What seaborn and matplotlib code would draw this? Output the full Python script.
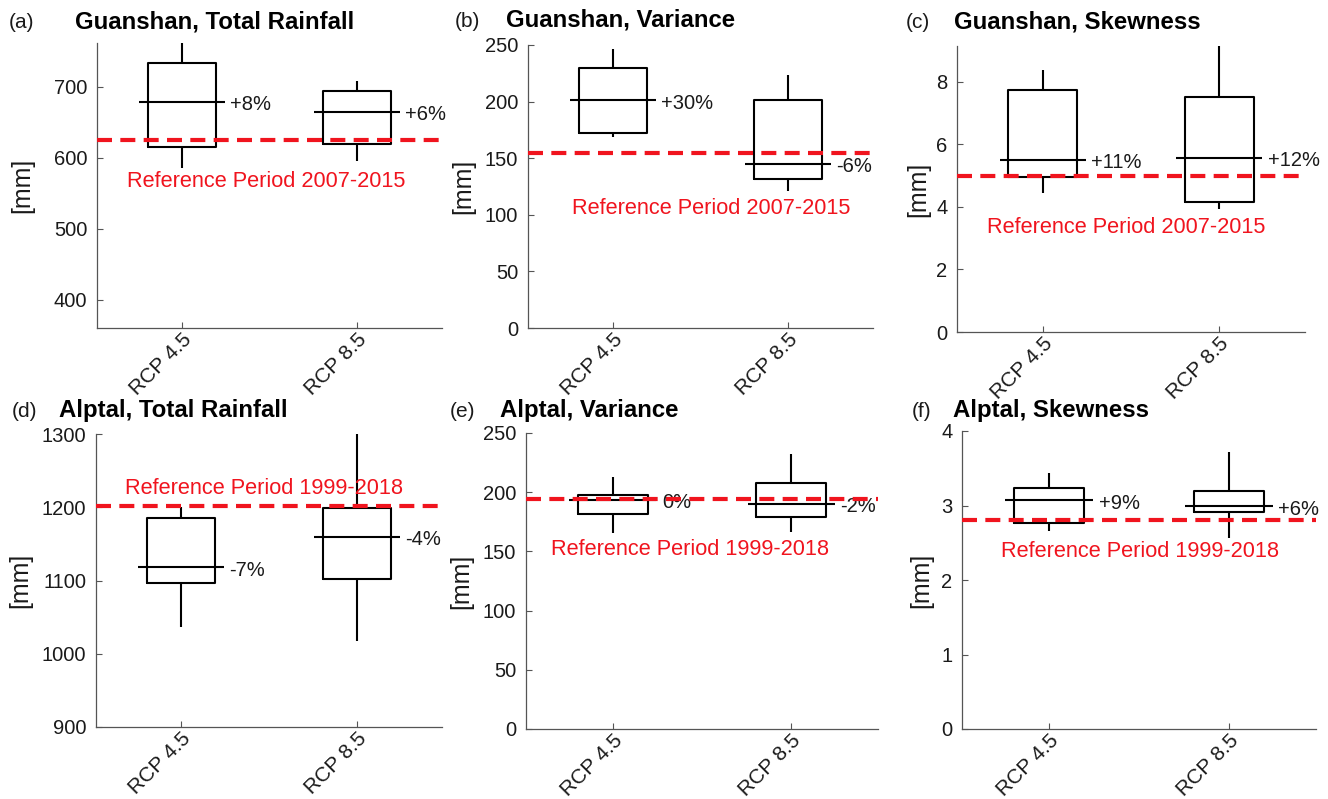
import numpy as np
import pandas as pd
import matplotlib
matplotlib.use('Agg')
import matplotlib.pyplot as plt
import seaborn as sns

W, H = 1328, 799

SCENARIOS = ['RCP 4.5', 'RCP 8.5']

# five-number summaries:
# lower whisker, lower quartile, median, upper quartile, upper whisker
guanshan_total = [[586, 615, 679, 734, 770], [596, 620, 665, 695, 709]]
guanshan_variance = [[168.6, 172.6, 201, 230, 246.5], [120.6, 131.8, 145, 201, 223.6]]
guanshan_skewness = [[4.44, 4.97, 5.50, 7.73, 8.37], [3.93, 4.15, 5.56, 7.52, 9.3]]
alptal_total = [[1037, 1097, 1118, 1185, 1201], [1017, 1102.5, 1160, 1199, 1300]]
alptal_variance = [[165.4, 181.8, 193.6, 197.9, 212.5], [166.3, 179, 190, 208, 232.5]]
alptal_skewness = [[2.66, 2.76, 3.07, 3.24, 3.43], [2.56, 2.91, 2.99, 3.19, 3.72]]

panel_data = [guanshan_total, guanshan_variance, guanshan_skewness,
              alptal_total, alptal_variance, alptal_skewness]

change_labels = [['+8%', '+6%'], ['+30%', '-6%'], ['+11%', '+12%'],
                 ['-7%', '-4%'], ['0%', '-2%'], ['+9%', '+6%']]

reference_values = [625, 155, 5.0, 1202, 194, 2.81]
reference_labels = ['Reference Period 2007-2015'] * 3 + ['Reference Period 1999-2018'] * 3
reference_label_y = [567, 106, 3.33, 1226, 152, 2.38]

panel_letters = ['(a)', '(b)', '(c)', '(d)', '(e)', '(f)']
panel_titles = ['Guanshan, Total Rainfall', 'Guanshan, Variance', 'Guanshan, Skewness',
                'Alptal, Total Rainfall', 'Alptal, Variance', 'Alptal, Skewness']

y_limits = [(360, 762), (0, 250), (0, 9.15), (900, 1300), (0, 250), (0, 4)]
y_ticks = [[400, 500, 600, 700], [0, 50, 100, 150, 200, 250], [0, 2, 4, 6, 8],
           [900, 1000, 1100, 1200, 1300], [0, 50, 100, 150, 200, 250], [0, 1, 2, 3, 4]]

# layout in pixels: axes (left, top, right, bottom), letter x, title x, title baseline
axes_px = [(97, 43, 442, 328), (528, 45, 873, 328), (957, 46, 1305, 332),
           (96, 434, 442, 727), (526, 433, 878, 729), (962, 431, 1316, 729)]
label_px = [(9, 75, 28), (455, 506, 27), (906, 954, 28),
            (12, 59, 417), (450, 500, 417), (912, 953, 417)]
ylabel_gap_px = [74, 64, 38, 75, 64, 40]
ref_label_x = [0.49, 0.53, 0.486, 0.486, 0.467, 0.504]

RED = '#f0141e'
INK = '#1a1a1a'
AXC = '#555555'

sns.set_theme(style='ticks', rc={
    'xtick.direction': 'in', 'ytick.direction': 'in',
    'axes.edgecolor': AXC, 'axes.linewidth': 0.9,
    'xtick.color': AXC, 'ytick.color': AXC,
    'xtick.labelcolor': INK, 'ytick.labelcolor': INK,
})
plt.rcParams['font.family'] = ['Liberation Sans', 'DejaVu Sans']

fig = plt.figure(figsize=(W / 100, H / 100), dpi=100)
fig.patch.set_facecolor('white')

for k, vals in enumerate(panel_data):
    l, t, r, b = axes_px[k]
    ax = fig.add_axes([l / W, 1 - b / H, (r - l) / W, (b - t) / H])

    df = pd.DataFrame({'scenario': np.repeat(SCENARIOS, [len(v) for v in vals]),
                       'value': np.concatenate(vals)})
    sns.boxplot(data=df, x='scenario', y='value', ax=ax, whis=(0, 100), width=0.39,
                fill=False, color='black', linewidth=1.5, showcaps=False,
                showfliers=False, medianprops={'visible': False})

    medians = df.groupby('scenario', sort=False)['value'].median().values
    xs = np.arange(len(SCENARIOS))
    ax.hlines(medians, xs - 0.245, xs + 0.245, color='black', linewidth=1.5, zorder=3)
    for i, m in enumerate(medians):
        ax.annotate(change_labels[k][i], (i + 0.275, m), xytext=(0, -2),
                    textcoords='offset points', ha='left', va='center',
                    fontsize=14.5, color=INK)

    ax.axhline(reference_values[k], color=RED, linewidth=3, dashes=(3.6, 2.0), zorder=5)
    ax.text(ref_label_x[k], reference_label_y[k], reference_labels[k],
            transform=ax.get_yaxis_transform(), ha='center', va='center',
            fontsize=15.7, color=RED)

    ax.set_xlim(-0.486, 1.486)
    ax.set_ylim(*y_limits[k])
    ax.set_yticks(y_ticks[k])
    ax.set_xlabel('')
    ax.set_ylabel('[mm]', fontsize=18, color=INK)
    ax.yaxis.set_label_coords(-(ylabel_gap_px[k] - 11) / (r - l), 0.5)
    ax.tick_params(axis='both', labelsize=14.5, length=4, width=0.8, pad=7)
    ax.set_xticks(xs)
    ax.set_xticklabels(SCENARIOS, rotation=45, ha='right', va='top',
                       rotation_mode='anchor', fontsize=15)
    ax.tick_params(axis='x', pad=1)
    sns.despine(ax=ax)

    lx, tx, by = label_px[k]
    fig.text(lx / W, 1 - by / H, panel_letters[k], fontsize=15, color=INK,
             ha='left', va='baseline')
    fig.text(tx / W, 1 - by / H, panel_titles[k], fontsize=17.3, fontweight='bold',
             color='black', ha='left', va='baseline')

fig.savefig('out.png', dpi=100, facecolor='white')
